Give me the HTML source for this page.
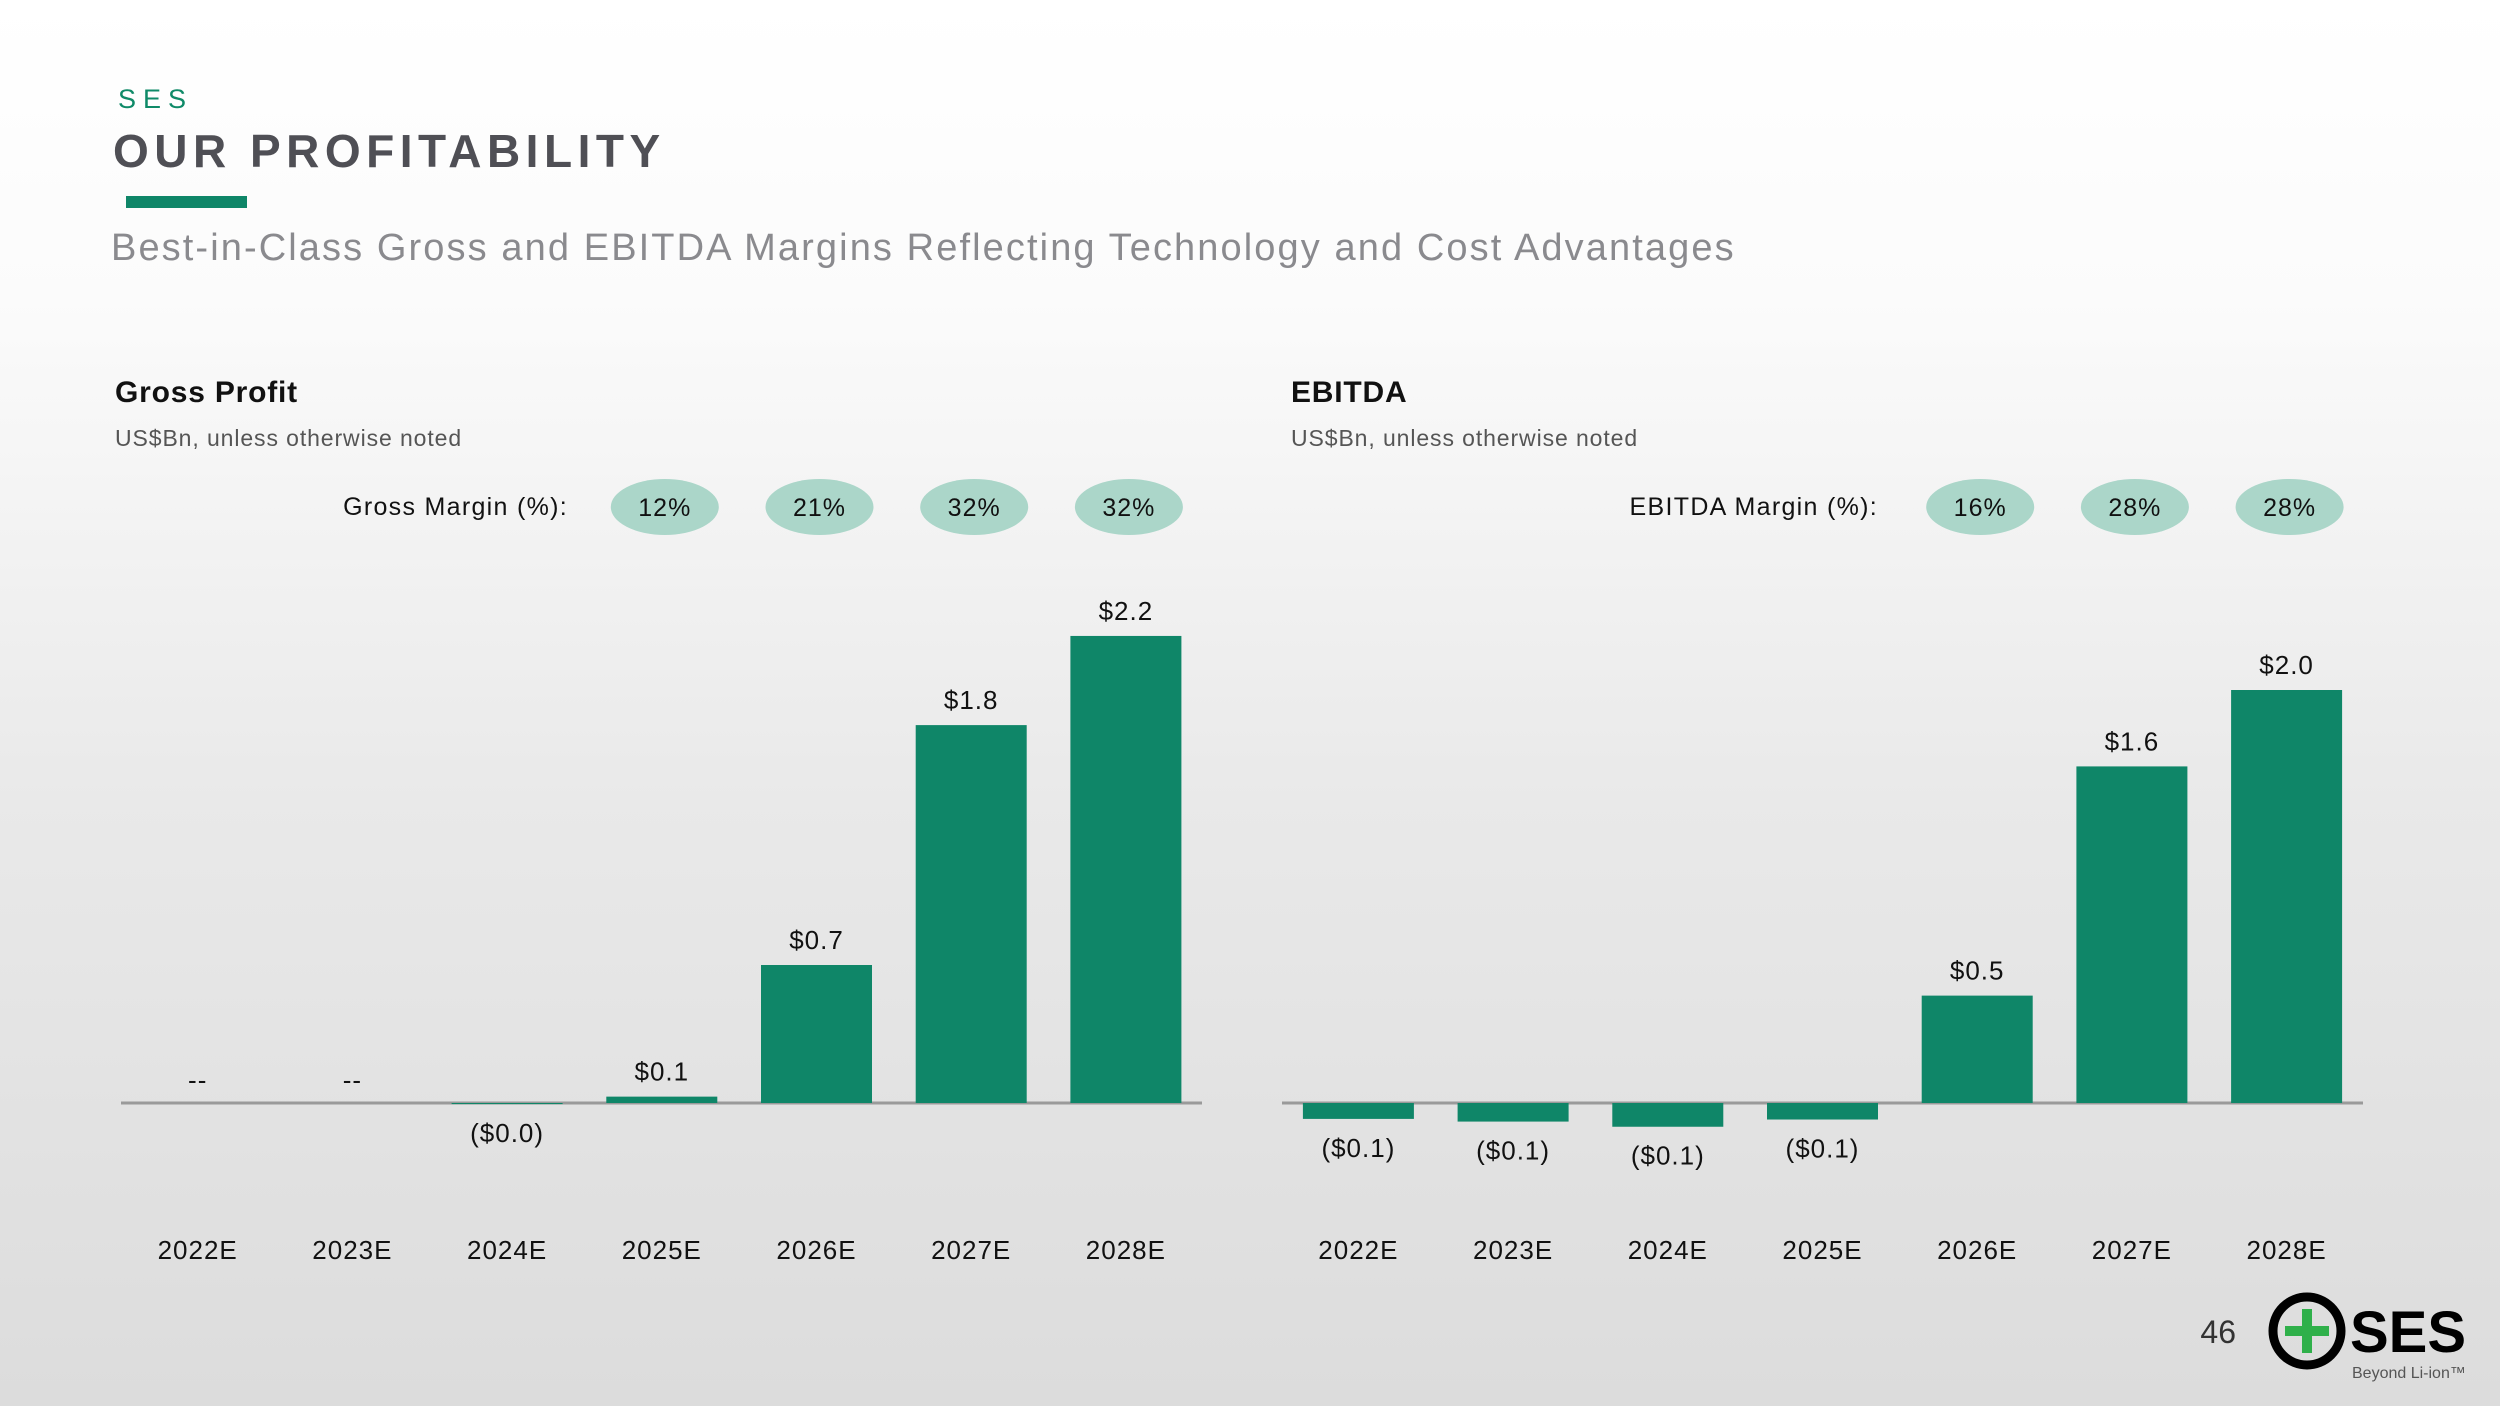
<!DOCTYPE html>
<html><head><meta charset="utf-8"><style>
html,body{margin:0;padding:0}
body{width:2500px;height:1406px;overflow:hidden;background:linear-gradient(#ffffff 0px,#fbfbfb 300px,#e9e9e9 800px,#dcdcdc 1406px);font-family:"Liberation Sans",sans-serif;}
</style></head><body>
<svg id="s" width="2500" height="1406" xmlns="http://www.w3.org/2000/svg" style="position:absolute;left:0;top:0">
<text x="118" y="108" font-size="27" fill="#0f8a68" letter-spacing="7">SES</text>
<text x="113" y="167" font-size="46" font-weight="bold" fill="#4f4f55" letter-spacing="5.5">OUR PROFITABILITY</text>
<rect x="126" y="196" width="121" height="12" fill="#0f8668"/>
<text x="111" y="260" font-size="38" fill="#8a8a8e" letter-spacing="2.1">Best-in-Class Gross and EBITDA Margins Reflecting Technology and Cost Advantages</text>
<text x="115" y="402" font-size="30" font-weight="bold" fill="#111" letter-spacing="0.8">Gross Profit</text>
<text x="115" y="446" font-size="23" fill="#555" letter-spacing="0.9">US$Bn, unless otherwise noted</text>
<text x="1291" y="402" font-size="30" font-weight="bold" fill="#111" letter-spacing="0.8">EBITDA</text>
<text x="1291" y="446" font-size="23" fill="#555" letter-spacing="0.9">US$Bn, unless otherwise noted</text>
<text x="568" y="515" font-size="25" text-anchor="end" fill="#111" letter-spacing="1.3">Gross Margin (%):</text>
<text x="1878" y="515" font-size="25" text-anchor="end" fill="#111" letter-spacing="1.3">EBITDA Margin (%):</text>
<g id="gp"></g><g id="eb"></g>
<text x="2236" y="1343" font-size="32" text-anchor="end" fill="#333">46</text>
<g>
<circle cx="2307" cy="1331" r="34" fill="none" stroke="#000" stroke-width="9"/>
<rect x="2285" y="1326" width="44" height="10" fill="#2fb04a"/>
<rect x="2302" y="1309" width="10" height="44" fill="#2fb04a"/>
<text x="2350" y="1352" font-size="58" font-weight="bold" fill="#000">SES</text>
<text x="2352" y="1378" font-size="16" fill="#555">Beyond Li-ion™</text>
</g>
</svg>
<script>
const years=["2022E","2023E","2024E","2025E","2026E","2027E","2028E"];
const gpValues=[0,0,-0.005,0.03,0.65,1.78,2.2];
const gpLabels=["--","--","($0.0)","$0.1","$0.7","$1.8","$2.2"];
const gpMargins=["12%","21%","32%","32%"];
const ebValues=[-0.077,-0.09,-0.115,-0.08,0.52,1.63,2.0];
const ebLabels=["($0.1)","($0.1)","($0.1)","($0.1)","$0.5","$1.6","$2.0"];
const ebMargins=["16%","28%","28%"];
const NS="http://www.w3.org/2000/svg";
function mk(t,a,p){const e=document.createElementNS(NS,t);for(const k in a)e.setAttribute(k,a[k]);p.appendChild(e);return e;}
function chart(gid,x0,axL,axR,vals,labs,margins,pxPer,name){
 const g=document.getElementById(gid);const base=1103,step=154.7,bw=111;
 const xc=i=>x0+i*step; const y=v=>base-v*pxPer;
 mk('line',{x1:axL,x2:axR,y1:base,y2:base,stroke:'#9a9a9a','stroke-width':3},g);
 vals.forEach((v,i)=>{
  const r=mk('rect',{x:xc(i)-bw/2,y:Math.min(y(v),base),width:bw,height:Math.abs(base-y(v)),fill:'#0f8668'},g);
  
  
  let ly;
  if(labs[i]==='--')ly=base-14; else if(v>=0)ly=y(v)-16; else ly=y(v)+38;
  const t=mk('text',{x:xc(i),y:ly,'font-size':26,'text-anchor':'middle',fill:'#111','letter-spacing':1},g);t.textContent=labs[i];
  
  
  const yt=mk('text',{x:xc(i),y:1259,'font-size':26,'text-anchor':'middle',fill:'#111','letter-spacing':1},g);yt.textContent=years[i];
  
  
 });
 const off=years.length-margins.length;
 margins.forEach((m,j)=>{const cx=xc(off+j)+3;
  const el=mk('ellipse',{cx:cx,cy:507,rx:54,ry:28,fill:'#abd6c9'},g);
  
  
  const t=mk('text',{x:cx,y:516,'font-size':25,'text-anchor':'middle',fill:'#111','letter-spacing':1},g);t.textContent=m;
  
  
 });
}
chart('gp',197.7,121,1202,gpValues,gpLabels,gpMargins,212.3,'gross-profit');
chart('eb',1358.4,1282,2363,ebValues,ebLabels,ebMargins,206.5,'ebitda');
</script>
</body></html>
